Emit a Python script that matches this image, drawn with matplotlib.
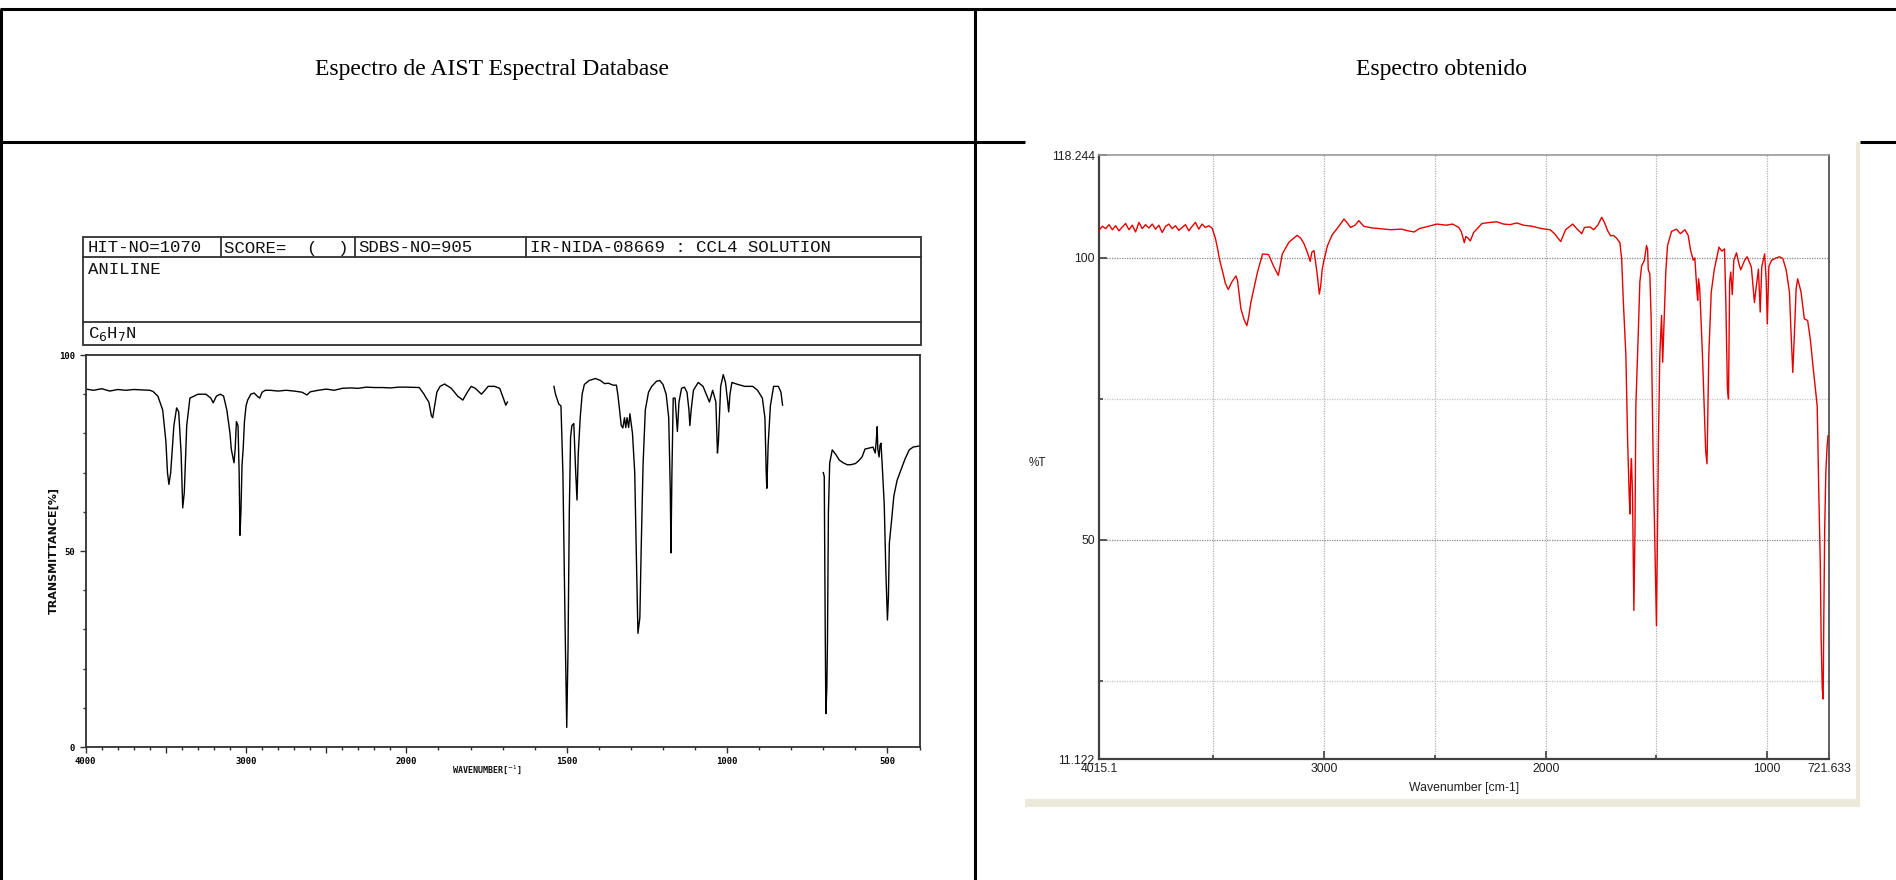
import matplotlib
matplotlib.use("Agg")
import matplotlib.pyplot as plt
from matplotlib.patches import Rectangle
import numpy as np

W, H = 1896, 880

# ---- reference spectrum (AIST / SDBS, aniline in CCl4) ----
ref_wn_1 = [4000, 3950, 3900, 3850, 3800, 3750, 3700, 3650, 3600, 3580, 3550, 3520, 3500,
            3490, 3481, 3470, 3450, 3433, 3420, 3405, 3395, 3385, 3370, 3350, 3300, 3250,
            3220, 3205, 3185, 3160, 3140, 3120, 3100, 3092, 3085, 3075, 3068, 3060, 3050,
            3043, 3038, 3032, 3025, 3018, 3010, 3000, 2990, 2970, 2950, 2930, 2915, 2900,
            2880, 2850, 2800, 2750, 2700, 2650, 2620, 2600, 2550, 2500, 2450, 2400, 2350,
            2300, 2250, 2200, 2150, 2100, 2050, 2000, 1960, 1945, 1938, 1930, 1922, 1918,
            1912, 1905, 1895, 1881, 1860, 1840, 1824, 1810, 1798, 1785, 1766, 1755, 1745,
            1725, 1709, 1700, 1690, 1685]
ref_t_1 = [91.3, 91.0, 91.4, 90.8, 91.2, 91.0, 91.2, 91.1, 91.0, 90.7, 89.5, 86, 78,
           70, 67, 70, 82, 86.5, 85.5, 75, 61, 65, 82, 89, 90, 90,
           89, 87.8, 89.5, 90, 89.5, 86, 80, 76, 74.5, 72.5, 76, 83, 82,
           70, 54, 60, 72, 76, 83, 87, 88.5, 90, 90.3, 89.5, 89, 90.5,
           91, 91, 90.8, 91, 90.8, 90.5, 89.8, 90.6, 91, 91.3, 91.0, 91.5, 91.6,
           91.5, 91.8, 91.7, 91.7, 91.6, 91.8, 91.8, 91.7, 90, 89, 88, 84.5, 84.0,
           87, 90.5, 92, 92.6, 91.5, 89.5, 88.5, 90.5, 92, 91.5, 90, 91, 92,
           92, 91.5, 89.5, 87.2, 88]

ref_wn_2 = [1540, 1535, 1525, 1518, 1512, 1505, 1500, 1496, 1492, 1488, 1484, 1478, 1472,
            1468, 1464, 1458, 1452, 1445, 1430, 1410, 1395, 1382, 1370, 1355, 1345, 1340,
            1330, 1325, 1320, 1316, 1312, 1307, 1303, 1295, 1288, 1282, 1278, 1272, 1268,
            1262, 1255, 1245, 1235, 1220, 1210, 1200, 1190, 1182, 1177, 1175, 1172, 1168,
            1162, 1158, 1155, 1150, 1142, 1133, 1125, 1119, 1116, 1112, 1105, 1090, 1075,
            1065, 1055, 1045, 1035, 1030, 1027, 1020, 1012, 1005, 998, 995, 991, 985, 967,
            945, 920, 905, 890, 882, 878, 876, 872, 865, 855, 840, 832, 827]
ref_t_2 = [92, 90, 87.5, 87, 70, 30, 5, 25, 60, 79, 82, 82.5, 70,
           63, 75, 84, 90, 92.5, 93.5, 94, 93.5, 92.7, 92.8, 92.3, 92.3, 89.5,
           82, 81.4, 84, 81.5, 84, 81.5, 85, 80, 70, 45, 29, 33, 50,
           72, 86, 90.5, 92, 93.3, 93.5, 92.5, 90, 84, 65, 49.5, 70, 89,
           89, 84, 80.5, 88, 91.5, 91.8, 90.5, 86, 82, 86, 91, 93, 92,
           90, 88, 91, 88, 75, 78, 92, 95, 93, 88, 85.5, 90, 93, 92.5,
           92, 92, 91, 89, 84, 70, 66, 77, 87, 92, 92, 90.5, 87.2]

ref_wn_3 = [700, 697, 694, 692, 689, 687, 684, 680, 672, 660, 650, 638, 625, 615, 600,
            590, 579, 570, 545, 538, 534, 532, 530, 526, 523, 520, 517, 510, 505, 500,
            497, 494, 488, 480, 470, 461, 445, 432, 420, 414, 400]
ref_t_3 = [70, 69, 30, 8.5, 15, 27, 60, 72.5, 75.8, 74.5, 73.2, 72.5, 72, 72, 72.3,
           73, 74, 76, 76.5, 75, 79, 81.7, 76, 74, 77, 77.5, 73, 62, 45, 32.4,
           38, 52, 57, 64, 68, 70, 73.5, 75.8, 76.5, 76.6, 76.8]

# ---- measured spectrum ----
obt_wn = [4015.1, 4000, 3985, 3970, 3955, 3940, 3925, 3910, 3895, 3880, 3865, 3850, 3835,
          3820, 3805, 3790, 3775, 3760, 3745, 3730, 3715, 3700, 3685, 3670, 3655, 3640,
          3625, 3610, 3595, 3580, 3565, 3550, 3535, 3520, 3505,
          3490, 3480, 3470, 3457, 3445, 3432, 3415, 3397, 3390, 3375, 3360, 3348, 3340,
          3330, 3300, 3277, 3250, 3226, 3206, 3188, 3158, 3121, 3105, 3090, 3077, 3062,
          3055, 3045, 3032, 3021, 3015, 3008, 3000, 2985, 2963, 2935, 2910, 2895, 2880,
          2860, 2843, 2820, 2780, 2750, 2700, 2650, 2620, 2593, 2570, 2530, 2490, 2450,
          2420, 2392, 2380, 2367, 2360, 2350, 2340, 2325, 2287, 2250, 2220, 2190, 2160,
          2130, 2100, 2060, 2030, 2002, 1980, 1960, 1932, 1910, 1878, 1860, 1837, 1825,
          1800, 1783, 1765, 1747, 1735, 1720, 1707, 1695, 1680, 1665, 1657, 1650, 1638,
          1630, 1623, 1620, 1616, 1613, 1608, 1602, 1597, 1593, 1582, 1575, 1567, 1555,
          1545, 1540, 1537, 1530, 1524, 1515, 1500, 1497, 1491, 1485, 1477, 1472, 1466,
          1458, 1450, 1432, 1410, 1392, 1372, 1357, 1346, 1334, 1327, 1317, 1314, 1310,
          1305, 1293, 1282, 1278, 1272, 1264, 1253, 1239, 1218, 1205, 1193, 1187, 1180,
          1175, 1170, 1165, 1158, 1151, 1139, 1127, 1120, 1102, 1091, 1072, 1058, 1052,
          1040, 1032, 1025, 1012, 1005, 1000, 993, 980, 960, 945, 930, 915, 900, 893,
          885, 878, 870, 863, 848, 833, 818, 806, 794, 775, 772, 768, 761, 757, 752,
          748, 745, 741, 736, 730, 726, 721.633]
obt_t = [104.9, 105.6, 105.2, 105.9, 105.0, 105.7, 104.8, 105.5, 106.1, 105.0, 105.8, 104.6, 106.3,
         105.2, 105.9, 105.3, 106.0, 105.1, 105.8, 104.5, 105.6, 106.0, 105.2, 105.7, 104.9, 105.4,
         105.9, 104.8, 105.6, 106.3, 105.1, 106.0, 105.4, 105.7, 105.3,
         103.5, 101.6, 99.5, 97.5, 95.5, 94.4, 95.8, 96.8, 96, 91, 89, 88, 89.5,
         92.1, 97.5, 100.7, 100.6, 98.4, 96.9, 100.7, 102.8, 104, 103.5, 102.5, 101.2, 99.4,
         101, 101.3, 97.5, 93.6, 95, 98, 99.6, 102.1, 104.1, 105.5, 106.9, 106.2, 105.4,
         105.8, 106.6, 105.6, 105.3, 105.2, 105.0, 105.1, 104.8, 104.6, 105.2, 105.6, 106.0, 105.8,
         106.0, 105.4, 104.6, 102.7, 103.8, 103.5, 103.0, 104.5, 106.1, 106.3, 106.4, 106.0, 105.9,
         106.2, 105.8, 105.6, 105.3, 105.1, 105.0, 104.3, 102.9, 105.0, 106.0, 105.2, 104.3, 105.4,
         105.5, 105.0, 105.8, 107.2, 106.3, 104.8, 103.9, 104.0, 103.5, 102.7, 99.8, 92.7, 82.7,
         67.3, 57.9, 54.6, 62, 64.4, 58, 37.5, 51.4, 73.8, 86.8, 95.7, 98.6, 99.5,
         102.2, 101.5, 97.9, 97.2, 89.2, 64.4, 34.8, 45.4, 67.9, 82.7, 89.8, 81.5, 88.6,
         97.5, 102.2, 104.7, 105.1, 104.3, 105.0, 104.0, 101.3, 99.6, 100.0, 93.9, 92.5, 96.3,
         94.6, 83.3, 70.3, 65.8, 63.5, 82.7, 93.9, 98.0, 101.9, 101.2, 101.6, 92.1, 76.8,
         75.0, 95.7, 97.5, 93.5, 99.6, 100.9, 98.8, 97.9, 99.6, 100.2, 98.4, 92.1, 94.2,
         98.0, 90.4, 98.4, 100.7, 96.0, 88.3, 98.5, 99.6, 100.0, 100.2, 99.9, 97.9, 93.9, 86.8,
         79.7, 86.2, 94.5, 96.3, 94.0, 89.2, 88.9, 85.6, 80.9, 73.8, 67.9, 59.0, 46.0, 32.4, 23.6,
         21.8, 36.6, 52.0, 62.0, 66.7, 68.5, 68.5]

ref_xticks = [4000, 3500, 3000, 2500, 2000, 1500, 1000, 500]
ref_xlabels = ["4000", "", "3000", "", "2000", "1500", "1000", "500"]
obt_xticks = [4015.1, 3000, 2000, 1000, 721.633]
obt_yticks = [11.122, 50, 100, 118.244]

fig = plt.figure(figsize=(W / 100, H / 100), dpi=100)

# page / table layer in pixel coords
bg = fig.add_axes([0, 0, 1, 1], zorder=0)
bg.set_xlim(0, W)
bg.set_ylim(H, 0)
bg.axis("off")

# screenshot frame on the right
bg.add_patch(Rectangle((1025, 799), 835, 8, color="#ece9d8", lw=0))
bg.add_patch(Rectangle((1856.5, 142.5), 4, 664, color="#ece9d8", lw=0))

tl = dict(color="black", lw=2.2, solid_capstyle="butt")
bg.plot([0, W], [9.5, 9.5], **tl)
bg.plot([1.2, 1.2], [9.5, H], **tl)
bg.plot([975.5, 975.5], [9.5, H], **tl)
bg.plot([0, 1025], [141.7, 141.7], **tl)
bg.plot([1860.5, W], [141.7, 141.7], **tl)

serif = ["Liberation Serif", "DejaVu Serif"]
bg.text(492, 70, "Espectro de AIST Espectral Database", family=serif, fontsize=17,
        ha="center", va="center")
bg.text(1442, 70, "Espectro obtenido", family=serif, fontsize=17, ha="center", va="center")

# SDBS header box
hb = dict(color="#303030", lw=1.3)
bg.add_patch(Rectangle((83, 237), 838, 108, fill=False, ec="#303030", lw=1.3))
bg.plot([83, 921], [257, 257], **hb)
bg.plot([83, 921], [322, 322], **hb)
for xc in [221, 355, 526]:
    bg.plot([xc, xc], [237, 257], **hb)
mono = ["Liberation Mono", "DejaVu Sans Mono"]
hdr = dict(family=mono, fontsize=12.5, va="center", ha="left", color="#111111")
bg.text(88, 248, "HIT-NO=1070", **hdr)
bg.text(224, 248, "SCORE=  (  )", **hdr)
bg.text(358, 248, "SDBS-NO=905", **hdr)
bg.text(530, 248, "IR-NIDA-08669 : CCL4 SOLUTION", **hdr)
bg.text(88, 269, "ANILINE", **hdr)
bg.text(88, 334, "C$_6$H$_7$N", **hdr)

tiny = ["DejaVu Sans Mono"]
small = dict(family=tiny, fontsize=6, weight="bold", color="#111111")
bg.text(54, 550, "TRANSMITTANCE[%]", family=["DejaVu Sans"], fontsize=8, weight="bold",
        rotation=90, ha="center", va="center", color="#111111")
bg.text(487, 770, "WAVENUMBER[$^{-1}$]", ha="center", va="center", **small)

bg.text(1037, 463, "%T", family=["Liberation Sans", "DejaVu Sans"], fontsize=8.5,
        ha="center", va="center", color="#202020")
bg.text(1464, 788, "Wavenumber [cm-1]", family=["Liberation Sans", "DejaVu Sans"],
        fontsize=8.8, ha="center", va="center", color="#202020")


# ---- left: reference spectrum, split wavenumber scale ----
def fwd(w):
    w = np.asarray(w, dtype=float)
    return np.where(w >= 2000, w, 2 * w - 2000)


def inv(u):
    u = np.asarray(u, dtype=float)
    return np.where(u >= 2000, u, (u + 2000) / 2)


ax1 = fig.add_axes([85.7 / W, 1 - 747 / H, 833.8 / W, 392 / H], zorder=2)
ax1.set_xscale("function", functions=(fwd, inv))
for wn, t in [(ref_wn_1, ref_t_1), (ref_wn_2, ref_t_2), (ref_wn_3, ref_t_3)]:
    ax1.plot(wn, t, color="black", lw=1.0)
ax1.set_xlim(4000, 400)
ax1.set_ylim(0, 100)
ax1.set_xticks(ref_xticks)
ax1.set_xticklabels(ref_xlabels)
ax1.set_xticks(list(range(400, 4001, 100)), minor=True)
ax1.set_yticks([0, 50, 100])
ax1.set_yticklabels(["0", "50", "100"])
ax1.set_yticks(list(range(0, 101, 10)), minor=True)
ax1.tick_params(which="major", length=4.5, width=1, color="#303030", pad=3)
ax1.tick_params(which="minor", length=2.2, width=1, color="#303030")
for lab in ax1.get_xticklabels() + ax1.get_yticklabels():
    lab.set_family(tiny)
    lab.set_fontsize(6.5)
    lab.set_fontweight("bold")
for sp in ax1.spines.values():
    sp.set_color("#303030")
    sp.set_linewidth(1.3)

# ---- right: measured spectrum ----
ax2 = fig.add_axes([1099 / W, 1 - 759.3 / H, 730 / W, 604.3 / H], zorder=2)
for g in [3500, 3000, 2500, 2000, 1500, 1000]:
    ax2.axvline(g, color="#b0b0b0", lw=0.9, ls=(0, (1, 1)), zorder=1)
for g, c in [(100, "#888888"), (75, "#c4c4c4"), (50, "#888888"), (25, "#c4c4c4")]:
    ax2.axhline(g, color=c, lw=0.9, ls=(0, (1, 1)), zorder=1)
ax2.plot(obt_wn, obt_t, color="#e60000", lw=1.0, zorder=3)
ax2.set_xlim(4015.1, 721.633)
ax2.set_ylim(11.122, 118.244)
ax2.set_xticks(obt_xticks)
ax2.set_xticklabels(["4015.1", "3000", "2000", "1000", "721.633"])
ax2.set_xticks([3500, 2500, 1500], minor=True)
ax2.set_yticks(obt_yticks)
ax2.set_yticklabels(["11.122", "50", "100", "118.244"])
ax2.set_yticks([25, 75], minor=True)
ax2.tick_params(which="major", direction="in", length=5.5, width=1.2, color="#404040", pad=3)
ax2.tick_params(which="minor", direction="in", length=2.8, width=1.2, color="#404040")
for lab in ax2.get_xticklabels() + ax2.get_yticklabels():
    lab.set_family(["Liberation Sans", "DejaVu Sans"])
    lab.set_fontsize(8.8)
    lab.set_color("#202020")
ax2.spines["left"].set_color("#404040")
ax2.spines["bottom"].set_color("#404040")
ax2.spines["left"].set_linewidth(1.6)
ax2.spines["bottom"].set_linewidth(1.6)
ax2.spines["right"].set_color("#606060")
ax2.spines["right"].set_linewidth(1.4)
ax2.spines["top"].set_color("#999999")
ax2.spines["top"].set_linewidth(1.2)

fig.savefig("out.png", dpi=100)
